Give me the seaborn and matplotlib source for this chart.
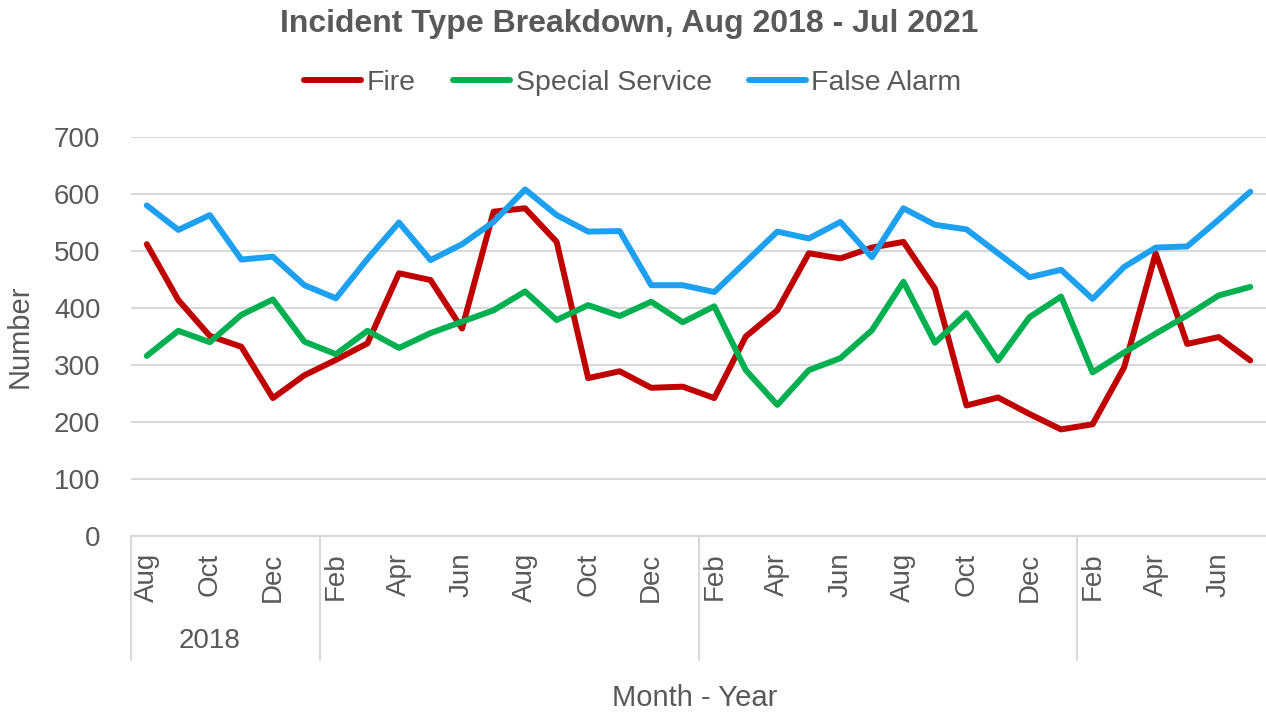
import numpy as np
import pandas as pd
import matplotlib
matplotlib.use("Agg")
import matplotlib.pyplot as plt
import seaborn as sns

# monthly counts, Aug 2018 .. Jul 2021
months = ['Aug', 'Sep', 'Oct', 'Nov', 'Dec', 'Jan',
          'Feb', 'Mar', 'Apr', 'May', 'Jun', 'Jul', 'Aug', 'Sep', 'Oct', 'Nov', 'Dec', 'Jan',
          'Feb', 'Mar', 'Apr', 'May', 'Jun', 'Jul', 'Aug', 'Sep', 'Oct', 'Nov', 'Dec', 'Jan',
          'Feb', 'Mar', 'Apr', 'May', 'Jun', 'Jul']
year_labels = ['2018', '', '', '']
year_sizes = [6, 12, 12, 6]

fire = [512, 414, 351, 332, 242, 282, 309, 338, 461, 449, 364, 569,
        575, 516, 277, 289, 260, 262, 242, 350, 396, 496, 487, 506,
        516, 434, 229, 243, 214, 187, 196, 296, 496, 337, 349, 308]
special_service = [316, 360, 340, 388, 415, 341, 319, 360, 330, 356, 376, 396,
                   429, 379, 405, 386, 411, 375, 403, 291, 230, 291, 312, 361,
                   446, 339, 391, 308, 384, 420, 287, 322, 355, 387, 422, 437]
false_alarm = [580, 537, 563, 485, 490, 440, 417, 486, 550, 484, 512, 551,
               608, 563, 534, 535, 440, 440, 428, 481, 534, 522, 551, 489,
               575, 546, 538, 496, 454, 467, 416, 472, 506, 508, 555, 604]

series = ['Fire', 'Special Service', 'False Alarm']
colors = ['#C00000', '#00B050', '#1EA0F0']
grey = '#595959'
light = '#D9D9D9'

df = pd.DataFrame({
    'idx': np.tile(np.arange(len(months)), 3),
    'value': fire + special_service + false_alarm,
    'series': np.repeat(series, len(months)),
})

sns.set_style('white')
plt.rcParams['font.family'] = ['Liberation Sans', 'DejaVu Sans']
plt.rcParams['text.color'] = grey

fig = plt.figure(figsize=(12.66, 7.18), dpi=100)
ax = fig.add_axes([131 / 1266, 1 - 536 / 718, 1 - 131 / 1266, 399 / 718])

sns.lineplot(data=df, x='idx', y='value', hue='series', hue_order=series,
             palette=colors, linewidth=4.3, ax=ax, legend=True,
             solid_capstyle='round', solid_joinstyle='round')

ax.set_xlim(-0.5, len(months) - 0.5)
ax.set_ylim(0, 700)
ax.set_yticks(range(0, 701, 100))
ax.yaxis.grid(True, color=light, linewidth=1.5)
ax.set_axisbelow(True)
for s in ['top', 'right', 'left']:
    ax.spines[s].set_visible(False)
ax.spines['bottom'].set_color(light)
ax.spines['bottom'].set_linewidth(1.5)

ax.set_xticks(range(0, len(months), 2))
ax.set_xticklabels(months[::2], rotation=90, va='top', ha='center')
ax.set_xticks(np.arange(-0.5, len(months), 1), minor=True)
ax.tick_params(axis='x', which='major', length=0, pad=12, labelsize=20, labelcolor=grey)
ax.tick_params(axis='x', which='minor', length=5, width=1.2, color=light, direction='out')
ax.tick_params(axis='y', length=0, pad=22, labelsize=20, labelcolor=grey)

# year grouping row under the month labels
trans = ax.get_xaxis_transform()
edges = np.concatenate([[0], np.cumsum(year_sizes)]) - 0.5
for e in edges[:-1]:
    ax.plot([e, e], [0, -0.31], transform=trans, color=light, lw=1.5, clip_on=False)
ax.text(2, -0.263, year_labels[0], transform=trans, ha='center', va='center',
        fontsize=20, color=grey)

ax.set_xlabel('Month - Year', fontsize=21, color=grey)
ax.xaxis.set_label_coords(0.497, -0.372)
ax.set_ylabel('Number', fontsize=21, color=grey)
ax.yaxis.set_label_coords(-0.086, 0.5)

handles, labels = ax.get_legend_handles_labels()
ax.get_legend().remove()
for h in handles:
    h.set_solid_capstyle('round')
fig.legend(handles, labels, loc='center', bbox_to_anchor=(0.5, 1 - 83 / 718), ncol=3,
           frameon=False, fontsize=20.5, handlelength=2.0, handletextpad=0.2,
           columnspacing=1.3, labelcolor=grey)

fig.text(0.497, 1 - 24 / 718, 'Incident Type Breakdown, Aug 2018 - Jul 2021',
         ha='center', va='center', fontsize=23, fontweight='bold', color=grey)

fig.savefig('out.png', dpi=100)
